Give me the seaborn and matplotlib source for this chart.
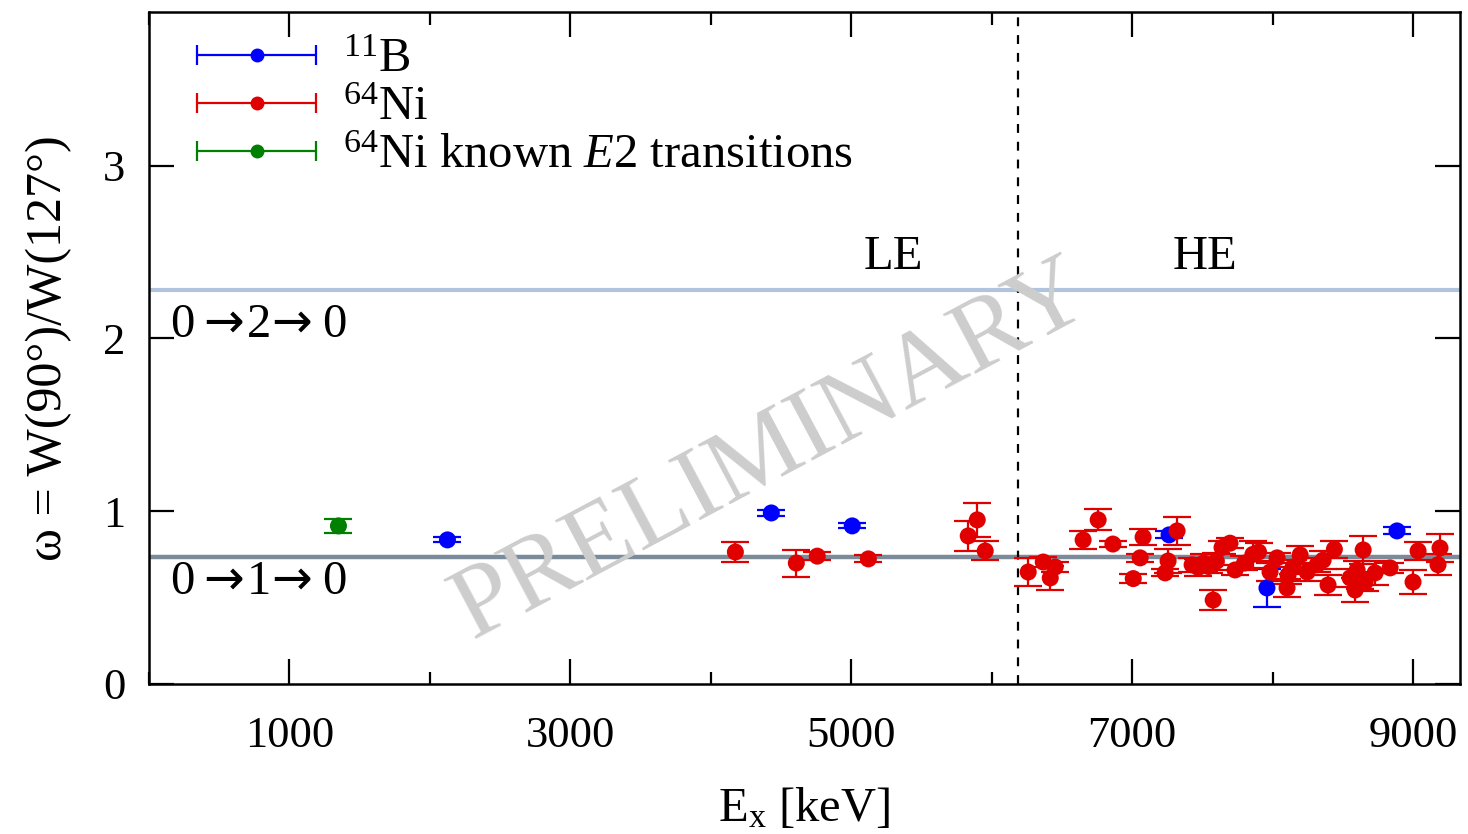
import matplotlib
matplotlib.use("Agg")
import matplotlib.pyplot as plt
from matplotlib.lines import Line2D
from matplotlib.legend_handler import HandlerBase
from matplotlib.ticker import MultipleLocator
import numpy as np
import pandas as pd
import seaborn as sns

# ---- data -------------------------------------------------------------
# 11B calibration points
b11_ex = [2125, 4431, 5007, 7263, 7960, 8886]
b11_w = [0.834, 0.990, 0.915, 0.863, 0.556, 0.886]
b11_err = [0.015, 0.015, 0.015, 0.02, 0.11, 0.02]

# 64Ni known E2 transitions
e2_ex = [1349]
e2_w = [0.915]
e2_err = [0.04]

# 64Ni measured ratios
ni_ex = [4175, 4609, 4758, 5122, 5833, 5897, 5954,
         6260, 6367, 6417, 6452, 6651, 6758, 6863, 7008, 7057, 7078,
         7235, 7256, 7320, 7427, 7470, 7510, 7545, 7577, 7600, 7640,
         7697, 7733, 7800, 7860, 7900, 7982, 8032, 8103, 8110, 8146,
         8196, 8246, 8317, 8360, 8395, 8440, 8552, 8588, 8602, 8623,
         8645, 8659, 8730, 8837, 9000, 9036, 9178, 9192]
ni_w = [0.764, 0.700, 0.740, 0.724, 0.857, 0.950, 0.770,
        0.648, 0.706, 0.614, 0.677, 0.834, 0.950, 0.810, 0.610, 0.730, 0.850,
        0.643, 0.712, 0.886, 0.690, 0.675, 0.700, 0.680, 0.486, 0.710, 0.790,
        0.815, 0.660, 0.700, 0.750, 0.764, 0.648, 0.730, 0.556, 0.630, 0.677,
        0.747, 0.648, 0.690, 0.717, 0.573, 0.780, 0.614, 0.544, 0.660, 0.600,
        0.776, 0.590, 0.643, 0.672, 0.590, 0.770, 0.690, 0.787]
ni_err = [0.06, 0.078, 0.025, 0.02, 0.085, 0.10, 0.055,
          0.08, 0.03, 0.07, 0.03, 0.05, 0.06, 0.02, 0.025, 0.025, 0.045,
          0.02, 0.07, 0.08, 0.04, 0.05, 0.05, 0.04, 0.06, 0.05, 0.04,
          0.03, 0.03, 0.04, 0.08, 0.05, 0.05, 0.03, 0.05, 0.05, 0.04,
          0.05, 0.05, 0.04, 0.05, 0.06, 0.05, 0.05, 0.07, 0.05, 0.05,
          0.08, 0.05, 0.07, 0.03, 0.07, 0.05, 0.06, 0.08]

# theoretical ratios for spin sequences
w_020 = 2.28
w_010 = 0.735
le_he_boundary = 6190

x_ticks = [1000, 3000, 5000, 7000, 9000]
y_ticks = [0, 1, 2, 3]

# ---- style ------------------------------------------------------------
sns.set_theme(style="ticks")
plt.rcParams["font.family"] = ["Liberation Serif", "DejaVu Serif", "DejaVu Sans"]
plt.rcParams["mathtext.fontset"] = "custom"
plt.rcParams["mathtext.rm"] = "Liberation Serif"
plt.rcParams["mathtext.it"] = "Liberation Serif:italic"
plt.rcParams["mathtext.bf"] = "Liberation Serif:bold"
for key in ("text.color", "axes.labelcolor", "xtick.color", "ytick.color",
            "axes.edgecolor"):
    plt.rcParams[key] = "black"

RED = "#e00000"
BLUE = "#0000ff"
GREEN = "#008000"
FS = 35

fig = plt.figure(figsize=(14.68, 8.34), dpi=100)
ax = fig.add_axes([0.1015, 0.1799, 0.8931, 0.8057])

ax.axhline(w_020, color="#b0c4de", lw=3, zorder=1)
ax.axhline(w_010, color="#7b8b9a", lw=3.2, zorder=1)
ax.axvline(le_he_boundary, color="black", lw=1.6, ls=(0, (4, 4)), zorder=1)

series = [
    ("$^{11}$B", b11_ex, b11_w, b11_err, BLUE),
    ("$^{64}$Ni", ni_ex, ni_w, ni_err, RED),
    ("$^{64}$Ni known $E2$ transitions", e2_ex, e2_w, e2_err, GREEN),
]
draw_order = [series[2], series[0], series[1]]
for label, xs, ys, es, col in draw_order:
    df = pd.DataFrame({"ex": xs, "w": ys, "err": es})
    ax.errorbar(df["ex"], df["w"], yerr=df["err"], fmt="none",
                ecolor=col, elinewidth=1.6, capsize=10, capthick=1.6, zorder=3)
    sns.scatterplot(data=df, x="ex", y="w", ax=ax, color=col, s=150,
                    edgecolor="none", linewidth=0, zorder=4, legend=False)


class HorizontalErrorHandler(HandlerBase):
    def create_artists(self, legend, orig_handle, xdescent, ydescent,
                       width, height, fontsize, trans):
        col = orig_handle.get_color()
        y = height / 2.0 - ydescent
        x0 = -xdescent
        x1 = x0 + width
        bar = Line2D([x0, x1], [y, y], color=col, lw=1.6)
        caps = Line2D([x0, x1], [y, y], color=col, ls="none",
                      marker="|", markersize=14, markeredgewidth=1.6)
        dot = Line2D([(x0 + x1) / 2.0], [y], color=col, ls="none",
                     marker="o", markersize=9)
        for a in (bar, caps, dot):
            a.set_transform(trans)
        return [bar, caps, dot]


handles = [Line2D([], [], color=c) for _, _, _, _, c in series]
labels = [s[0] for s in series]
leg = ax.legend(handles, labels, handler_map={Line2D: HorizontalErrorHandler()},
                loc="upper left", bbox_to_anchor=(0.022, 0.99), frameon=False,
                fontsize=FS, handlelength=2.45, handletextpad=0.55,
                labelspacing=0.08, borderaxespad=0.0)

ax.text(150, 2.08, "0$\\rightarrow\\!$2$\\!\\rightarrow$0", fontsize=FS,
        va="center", ha="left", math_fontfamily="dejavusans")
ax.text(150, 0.59, "0$\\rightarrow\\!$1$\\!\\rightarrow$0", fontsize=FS,
        va="center", ha="left", math_fontfamily="dejavusans")
ax.text(5300, 2.47, "LE", fontsize=FS, ha="center", va="center")
ax.text(7520, 2.47, "HE", fontsize=FS, ha="center", va="center")

ax.text(0.475, 0.345, "PRELIMINARY", transform=ax.transAxes, fontsize=75,
        color="#cdcdcd", rotation=28, ha="center", va="center", zorder=2)

ax.set_xlim(0, 9335)
ax.set_ylim(0, 3.89)
ax.set_xticks(x_ticks)
ax.xaxis.set_minor_locator(MultipleLocator(2000))
ax.set_yticks(y_ticks)
ax.tick_params(which="both", direction="in", top=True, right=True,
               width=1.6, color="black", labelsize=32)
ax.tick_params(axis="x", which="both", pad=23)
ax.tick_params(axis="y", which="both", pad=17)
ax.tick_params(which="major", length=18)
ax.tick_params(which="minor", length=9)
for sp in ax.spines.values():
    sp.set_linewidth(1.8)
    sp.set_color("black")

ax.set_xlabel("E$_\\mathrm{x}$ [keV]", fontsize=FS, labelpad=22)
ax.set_ylabel("ω = W(90°)/W(127°)", fontsize=36, labelpad=22)

fig.savefig("out.png", dpi=100)
